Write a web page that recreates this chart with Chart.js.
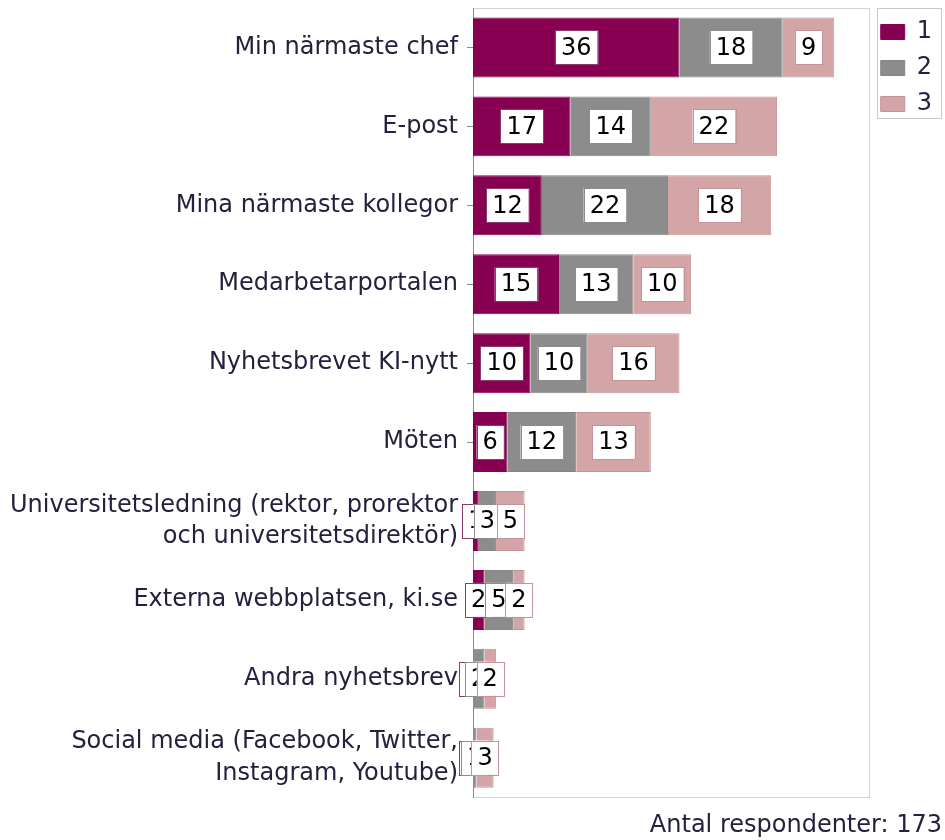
<html>
  <head>
    <meta charset="utf-8" />
    <script src="https://cdn.jsdelivr.net/npm/chart.js@4.4.0/dist/chart.umd.min.js"></script>
    <style>
      body { margin: 0; background: #fff; }
      #wrap { width: 945px; height: 840px; }
    </style>
  </head>
  <body>
    <div id="wrap">
      <canvas id="myChart"></canvas>
    </div>

    <script>
      const categories = [
        "Min närmaste chef",
        "E-post",
        "Mina närmaste kollegor",
        "Medarbetarportalen",
        "Nyhetsbrevet KI-nytt",
        "Möten",
        ["Universitetsledning (rektor, prorektor", "och universitetsdirektör)"],
        "Externa webbplatsen, ki.se",
        "Andra nyhetsbrev",
        ["Social media (Facebook, Twitter,", "Instagram, Youtube)"],
      ];
      const seriesNames = ["1", "2", "3"];
      const rank1 = [36, 17, 12, 15, 10, 6, 1, 2, 0, 0];
      const rank2 = [18, 14, 22, 13, 10, 12, 3, 5, 2, 0.6];
      const rank3 = [9, 22, 18, 10, 16, 13, 5, 2, 2, 3];
      const footText = "Antal respondenter: 173";

      const FONT = "'DejaVu Sans', sans-serif";

      // white boxed value labels, drawn in dataset order so later ones cover earlier
      const boxLabels = {
        id: "boxLabels",
        afterDatasetsDraw(chart) {
          const ctx = chart.ctx;
          ctx.save();
          ctx.font = "24px " + FONT;
          ctx.textAlign = "center";
          ctx.textBaseline = "middle";
          chart.data.datasets.forEach((ds, i) => {
            const meta = chart.getDatasetMeta(i);
            meta.data.forEach((bar, j) => {
              const txt = String(Math.round(ds.data[j]));
              const w = ctx.measureText(txt).width + 12;
              const h = 34;
              const cx = (bar.x + bar.base) / 2;
              const cy = bar.y;
              ctx.fillStyle = "#fff";
              ctx.fillRect(cx - w / 2, cy - h / 2, w, h);
              ctx.strokeStyle = ds.labelBorder;
              ctx.lineWidth = 1;
              ctx.strokeRect(Math.round(cx - w / 2) + 0.5, Math.round(cy - h / 2) + 0.5, Math.round(w), h);
              ctx.fillStyle = "#000";
              ctx.fillText(txt, cx, cy + 1);
            });
          });
          ctx.restore();
        },
      };

      // plot frame and legend border
      const frame = {
        id: "frame",
        beforeDraw(chart) {
          const { ctx, chartArea: a } = chart;
          ctx.save();
          ctx.strokeStyle = "#d4d4d4";
          ctx.lineWidth = 1;
          ctx.strokeRect(Math.round(a.left) + 0.5, Math.round(a.top) + 0.5, Math.round(a.right - a.left), Math.round(a.bottom - a.top));
          const lg = chart.legend;
          ctx.strokeStyle = "#c8c8c8";
          ctx.strokeRect(Math.round(lg.left) + 8.5, Math.round(lg.top) + 0.5, Math.round(lg.right - lg.left) - 9, 110);
          ctx.restore();
        },
      };

      const data = {
        labels: categories,
        datasets: [
          { label: seriesNames[0], data: rank1, backgroundColor: "#870052", borderColor: "#870052", labelBorder: "#8a3a6a", borderWidth: 1 },
          { label: seriesNames[1], data: rank2, backgroundColor: "#8c8c8c", borderColor: "#858585", labelBorder: "#8c8c8c", borderWidth: 1 },
          { label: seriesNames[2], data: rank3, backgroundColor: "#d4a5a7", borderColor: "#c3939a", labelBorder: "#c3939a", borderWidth: 1 },
        ],
      };

      const config = {
        type: "bar",
        data: data,
        plugins: [frame, boxLabels],
        options: {
          indexAxis: "y",
          responsive: true,
          maintainAspectRatio: false,
          animation: false,
          layout: { padding: { top: 8, right: 3, bottom: 0, left: 0 } },
          datasets: {
            bar: { categoryPercentage: 1, barPercentage: 0.76 },
          },
          scales: {
            x: {
              stacked: true,
              min: 0,
              max: 69,
              display: false,
            },
            y: {
              stacked: true,
              afterFit: (scale) => {
                scale.width = 473;
                scale.paddingTop = 0;
                scale.paddingBottom = 0;
              },
              ticks: {
                padding: 9,
                color: "#22223e",
                font: { family: FONT, size: 24, lineHeight: 1.3 },
              },
              grid: {
                offset: false,
                drawOnChartArea: false,
                tickLength: 6,
                color: "#8a8a8a",
              },
              border: { display: true, color: "#8a8a8a" },
            },
          },
          plugins: {
            legend: {
              position: "right",
              align: "start",
              labels: {
                boxWidth: 24,
                boxHeight: 15,
                padding: 12,
                color: "#22223e",
                font: { family: FONT, size: 24 },
              },
            },
            title: {
              display: true,
              text: footText,
              position: "bottom",
              align: "end",
              color: "#22223e",
              font: { family: FONT, size: 24, weight: "normal" },
              padding: { top: 14, bottom: 0 },
            },
            tooltip: { enabled: false },
          },
        },
      };

      const myChart = new Chart(document.getElementById("myChart"), config);
    </script>
  </body>
</html>
